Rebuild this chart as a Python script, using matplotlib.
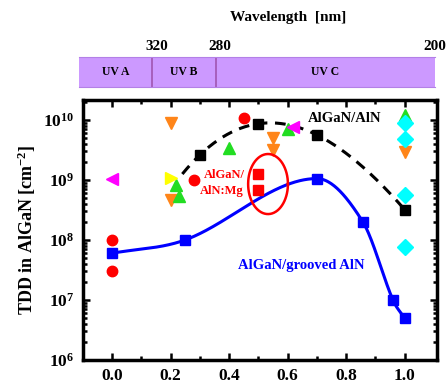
import numpy as np
import matplotlib
matplotlib.use("Agg")
import matplotlib.pyplot as plt
from matplotlib.ticker import FixedLocator, LogLocator, NullFormatter, FuncFormatter

plt.rcParams["font.family"] = ["Liberation Serif", "DejaVu Serif"]
plt.rcParams["font.weight"] = "bold"
plt.rcParams["mathtext.fontset"] = "custom"
plt.rcParams["mathtext.rm"] = "Liberation Serif:bold"
plt.rcParams["mathtext.it"] = "Liberation Serif:bold"
plt.rcParams["mathtext.bf"] = "Liberation Serif:bold"

# AlGaN on grooved AlN (blue squares, solid guide)
grooved_x = [0.0, 0.25, 0.70, 0.857, 0.96, 1.0]
grooved_y = [6e7, 1e8, 1.05e9, 2e8, 1e7, 5e6]

# AlGaN on AlN (black squares, dashed guide)
aln_x = [0.30, 0.50, 0.70, 1.0]
aln_y = [2.6e9, 8.6e9, 5.6e9, 3.2e8]

# AlGaN/AlN:Mg (red squares)
mg_x = [0.50, 0.50]
mg_y = [1.26e9, 6.8e8]

# other literature values
red_circ_x = [0.0, 0.0, 0.28, 0.45]
red_circ_y = [1e8, 3e7, 1e9, 1.07e10]
orange_x = [0.2, 0.2, 0.55, 0.55, 1.0]
orange_y = [9e9, 4.6e8, 5e9, 3.2e9, 2.9e9]
green_x = [0.22, 0.23, 0.40, 0.60, 1.0]
green_y = [8.3e8, 5.3e8, 3.4e9, 7e9, 1.2e10]
yellow_x = [0.2]
yellow_y = [1.07e9]
magenta_x = [0.0, 0.62]
magenta_y = [1.05e9, 7.6e9]
cyan_x = [1.0, 1.0, 1.0, 1.0]
cyan_y = [9e9, 4.8e9, 5.6e8, 7.6e7]

# UV band on top
band_names = ["UV A", "UV B", "UV C"]
band_edges = [-0.113, 0.137, 0.355, 1.102]   # in Al fraction units
band_ticks = [0.152, 0.369, 1.102]
band_tick_labels = ["320", "280", "200"]


def smooth_guide(x, y, xs):
    # cubic Hermite through the points, three-point slopes, flat at a peak
    x = np.asarray(x, float)
    y = np.asarray(y, float)
    h = np.diff(x)
    d = np.diff(y) / h
    n = len(x)
    m = np.zeros(n)
    for i in range(1, n - 1):
        if d[i - 1] * d[i] > 0:
            m[i] = (y[i + 1] - y[i - 1]) / (x[i + 1] - x[i - 1])
    m[0] = d[0]
    m[-1] = d[-1]
    out = np.empty_like(xs)
    for k, xv in enumerate(xs):
        i = min(max(np.searchsorted(x, xv) - 1, 0), n - 2)
        t = (xv - x[i]) / h[i]
        h00 = 2 * t**3 - 3 * t**2 + 1
        h10 = t**3 - 2 * t**2 + t
        h01 = -2 * t**3 + 3 * t**2
        h11 = t**3 - t**2
        out[k] = h00 * y[i] + h10 * h[i] * m[i] + h01 * y[i + 1] + h11 * h[i] * m[i + 1]
    return out


fig = plt.figure(figsize=(4.48, 3.83), dpi=100)
ax = fig.add_axes([0.185, 0.060, 0.790, 0.679])

# guides
xs = np.linspace(grooved_x[0], grooved_x[-1], 300)
ax.plot(xs, 10 ** smooth_guide(grooved_x, np.log10(grooved_y), xs), color="#0000ff", lw=2.2, zorder=2)
coef = np.polyfit(aln_x, np.log10(aln_y), 3)
xd = np.linspace(0.24, 1.0, 200)
ax.plot(xd, 10 ** np.polyval(coef, xd), color="black", lw=2.2, ls=(0, (3.5, 2.5)), zorder=2)

ax.plot(grooved_x, grooved_y, "s", color="#0000ff", ms=7, zorder=4)
ax.plot(aln_x, aln_y, "s", color="black", ms=7, zorder=4)
ax.plot(mg_x, mg_y, "s", color="#ff0000", ms=7, zorder=4)
ax.plot(red_circ_x, red_circ_y, "o", color="#ff0000", ms=7.5, zorder=3)
ax.plot(orange_x, orange_y, "v", color="#ff8519", ms=9, zorder=3)
ax.plot(green_x, green_y, "^", color="#22dd22", ms=9, zorder=3)
ax.plot(yellow_x, yellow_y, ">", color="#ffff00", ms=9, zorder=3)
ax.plot(magenta_x, magenta_y, "<", color="#ff00ff", ms=9, zorder=3)
ax.plot(cyan_x, cyan_y, "D", color="#00ffff", ms=8, zorder=3)

# ellipse around Mg-doped points
t = np.linspace(0, 2 * np.pi, 200)
ax.plot(0.533 + 0.068 * np.cos(t), 10 ** (8.93 + 0.5 * np.sin(t)), color="#ff0000", lw=1.8, zorder=3)

ax.text(0.67, 1.05e10, "AlGaN/AlN", color="black", fontsize=10.5, fontweight="bold", va="center")
ax.text(0.43, 3.7e7, "AlGaN/grooved AlN", color="#0000ff", fontsize=10.5, fontweight="bold", va="center")
ax.text(0.315, 1.2e9, "AlGaN/", color="#ff0000", fontsize=9, fontweight="bold", va="center")
ax.text(0.30, 6.5e8, "AlN:Mg", color="#ff0000", fontsize=9, fontweight="bold", va="center")

ax.set_yscale("log")
ax.set_xlim(-0.1, 1.11)
ax.set_ylim(1e6, 10 ** 10.33)
ax.xaxis.set_major_locator(FixedLocator([0.0, 0.2, 0.4, 0.6, 0.8, 1.0]))
ax.xaxis.set_minor_locator(FixedLocator([0.1, 0.3, 0.5, 0.7, 0.9]))
ax.yaxis.set_major_locator(FixedLocator([1e6, 1e7, 1e8, 1e9, 1e10]))
ax.yaxis.set_minor_locator(LogLocator(base=10, subs=np.arange(2, 10)))
ax.yaxis.set_minor_formatter(NullFormatter())
ax.yaxis.set_major_formatter(FuncFormatter(lambda v, p: r"$10^{%d}$" % round(np.log10(v))))
ax.xaxis.set_major_formatter(FuncFormatter(lambda v, p: "%.1f" % v))
ax.tick_params(which="both", direction="in", top=True, right=True, width=1.8)
ax.tick_params(which="major", length=5, labelsize=12.5, pad=6)
ax.tick_params(which="minor", length=3)
for lab in ax.get_xticklabels():
    lab.set_fontweight("bold")
for s in ax.spines.values():
    s.set_linewidth(2.5)
ax.set_ylabel(r"TDD in AlGaN [cm$^{-2}$]", fontsize=13, fontweight="bold", labelpad=4)

# UV band
bx = fig.add_axes([0.176, 0.773, 0.795, 0.078])
bx.set_xlim(band_edges[0], band_edges[-1])
bx.set_ylim(0, 1)
bx.axvspan(band_edges[0], band_edges[-1], color="#cc99ff", lw=0)
for e in band_edges[1:-1]:
    bx.axvline(e, color="#a055b0", lw=1.2)
for name, a, b in zip(band_names, band_edges[:-1], band_edges[1:]):
    bx.text((a + b) / 2, 0.5, name, ha="center", va="center", fontsize=8.5)
for xt, lab in zip(band_ticks, band_tick_labels):
    bx.text(xt, 1.12, lab, ha="center", va="bottom", fontsize=11, fontweight="bold")
bx.text(0.60, 2.1, "Wavelength  [nm]", ha="center", va="bottom", fontsize=11, fontweight="bold")
bx.set_xticks([])
bx.set_yticks([])
for s in ["left", "right"]:
    bx.spines[s].set_visible(False)
for s in ["top", "bottom"]:
    bx.spines[s].set_color("#b380e6")

fig.savefig("out.png", dpi=100)
